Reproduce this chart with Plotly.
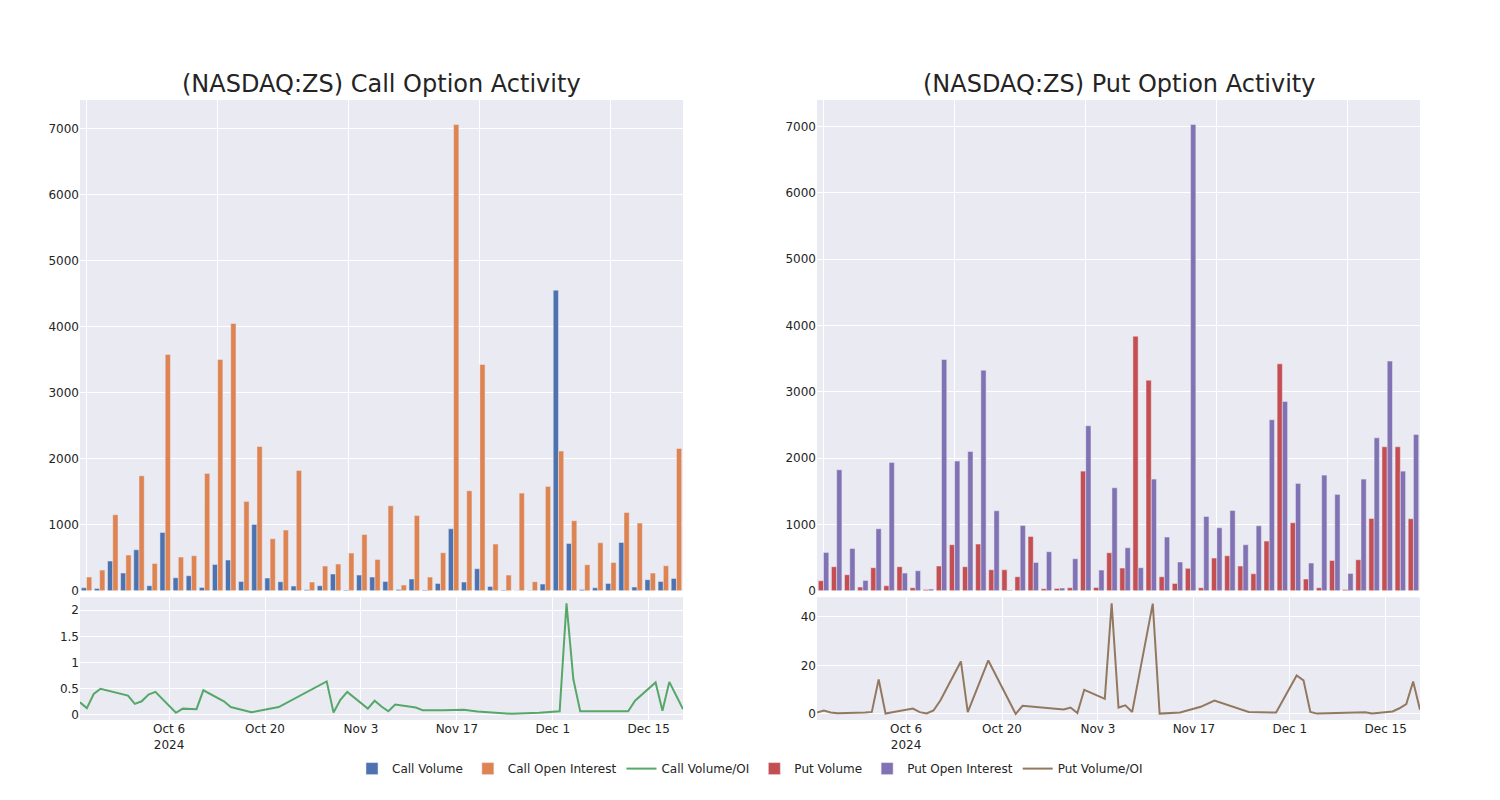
import plotly.graph_objects as go
from plotly.subplots import make_subplots

dates = [
    "2024-09-23", "2024-09-24", "2024-09-25", "2024-09-26", "2024-09-30",
    "2024-10-01", "2024-10-02", "2024-10-03", "2024-10-04", "2024-10-07",
    "2024-10-08", "2024-10-09", "2024-10-10", "2024-10-11", "2024-10-14",
    "2024-10-15", "2024-10-18", "2024-10-22", "2024-10-23", "2024-10-29",
    "2024-10-30", "2024-10-31", "2024-11-01", "2024-11-04", "2024-11-05",
    "2024-11-06", "2024-11-07", "2024-11-08", "2024-11-11", "2024-11-12",
    "2024-11-15", "2024-11-18", "2024-11-20", "2024-11-25", "2024-11-29",
    "2024-12-02", "2024-12-03", "2024-12-04", "2024-12-05", "2024-12-12",
    "2024-12-13", "2024-12-16", "2024-12-17", "2024-12-18", "2024-12-19",
    "2024-12-20",
]

call_volume = [45, 35, 450, 268, 621, 76, 884, 197, 227, 50,
               399, 465, 141, 1005, 192, 136, 71, 15, 76, 253,
               10, 237, 207, 141, 20, 177, 10, 111, 939, 131,
               333, 66, 10, 5, 2, 101, 4556, 717, 20, 45,
               111, 732, 56, 167, 141, 187]

call_oi = [207, 313, 1152, 540, 1742, 414, 3581, 510, 530, 1778,
           3505, 4050, 1354, 2187, 788, 919, 1823, 131, 374, 404,
           571, 853, 475, 1288, 86, 1141, 207, 576, 7066, 1515,
           3429, 707, 237, 1480, 136, 1581, 2116, 1061, 394, 727,
           429, 1187, 1025, 268, 379, 2157]

call_ratio = [0.24, 0.13, 0.40, 0.50, 0.37, 0.21, 0.26, 0.39, 0.44, 0.04,
              0.12, 0.12, 0.11, 0.47, 0.26, 0.15, 0.05, 0.15, 0.22, 0.64,
              0.045, 0.29, 0.44, 0.12, 0.27, 0.16, 0.07, 0.20, 0.14, 0.09,
              0.09, 0.10, 0.065, 0.02, 0.04, 0.07, 2.13, 0.68, 0.07, 0.07,
              0.27, 0.62, 0.08, 0.63, 0.37, 0.11]

put_volume = [151, 362, 241, 55, 347, 75, 362, 45, 20, 372,
              693, 362, 703, 316, 316, 211, 819, 30, 35, 45,
              1803, 50, 573, 342, 3837, 3174, 211, 110, 337, 45,
              492, 527, 372, 256, 748, 3420, 1025, 176, 45, 457,
              20, 467, 1090, 2170, 2170, 1085]

put_oi = [578, 1823, 638, 156, 934, 1934, 266, 301, 25, 3486,
          1954, 2100, 3325, 1205, 10, 984, 427, 588, 40, 482,
          2486, 311, 1552, 648, 347, 1683, 809, 432, 7027, 1120,
          949, 1210, 693, 979, 2577, 2853, 1617, 417, 1743, 1452,
          261, 1683, 2305, 3461, 1803, 2356]

put_ratio = [0.55, 1.4, 0.6, 0.3, 0.6, 0.8, 14.2, 0.15, 0.7, 2.2,
             0.7, 0.15, 1.4, 5.5, 21.6, 0.7, 22.0, 0.0, 3.3, 1.8,
             2.6, 0.3, 9.9, 6.2, 45.5, 2.6, 3.5, 0.8, 45.4, 0.1,
             0.55, 2.9, 5.5, 0.8, 0.55, 15.8, 13.8, 0.8, 0.1, 0.7,
             0.2, 1.0, 2.3, 4.0, 13.3, 1.7]

titles = ["(NASDAQ:ZS) Call Option Activity", "(NASDAQ:ZS) Put Option Activity"]

fig = make_subplots(rows=2, cols=2, row_heights=[0.8, 0.2],
                    vertical_spacing=0.01, horizontal_spacing=0.1)

fig.add_trace(go.Bar(x=dates, y=call_volume, name="Call Volume",
                     marker_color="#4C72B0"), row=1, col=1)
fig.add_trace(go.Bar(x=dates, y=call_oi, name="Call Open Interest",
                     marker_color="#DD8452"), row=1, col=1)
fig.add_trace(go.Scatter(x=dates, y=call_ratio, name="Call Volume/OI",
                         mode="lines", line=dict(color="#55A868", width=2)), row=2, col=1)
fig.add_trace(go.Bar(x=dates, y=put_volume, name="Put Volume",
                     marker_color="#C44E52"), row=1, col=2)
fig.add_trace(go.Bar(x=dates, y=put_oi, name="Put Open Interest",
                     marker_color="#8172B3"), row=1, col=2)
fig.add_trace(go.Scatter(x=dates, y=put_ratio, name="Put Volume/OI",
                         mode="lines", line=dict(color="#937860", width=2)), row=2, col=2)

fig.update_layout(
    template="seaborn",
    width=1500, height=800,
    margin=dict(l=72, r=88, t=92, b=88),
    paper_bgcolor="white",
    font=dict(family="DejaVu Sans"),
    barmode="group",
    legend=dict(orientation="h", x=0.5, xanchor="center", y=-0.055, yanchor="top",
                font=dict(size=12)),
    annotations=[
        dict(text=titles[0], x=0.225, y=1.0, xref="paper", yref="paper",
             xanchor="center", yanchor="bottom", showarrow=False, font=dict(size=24)),
        dict(text=titles[1], x=0.775, y=1.0, xref="paper", yref="paper",
             xanchor="center", yanchor="bottom", showarrow=False, font=dict(size=24)),
    ],
)

cat_axis = dict(type="category", showticklabels=False, tickmode="linear", tick0=0, dtick=10)
fig.update_layout(
    xaxis=dict(domain=[0, 0.45], **cat_axis),
    xaxis2=dict(domain=[0.55, 1.0], **cat_axis),
    xaxis3=dict(domain=[0, 0.45], type="date"),
    xaxis4=dict(domain=[0.55, 1.0], type="date"),
    yaxis=dict(domain=[0.2085, 1.0]),
    yaxis2=dict(domain=[0.2085, 1.0]),
    yaxis3=dict(domain=[0, 0.198]),
    yaxis4=dict(domain=[0, 0.198]),
)

fig.write_html("out.html")
